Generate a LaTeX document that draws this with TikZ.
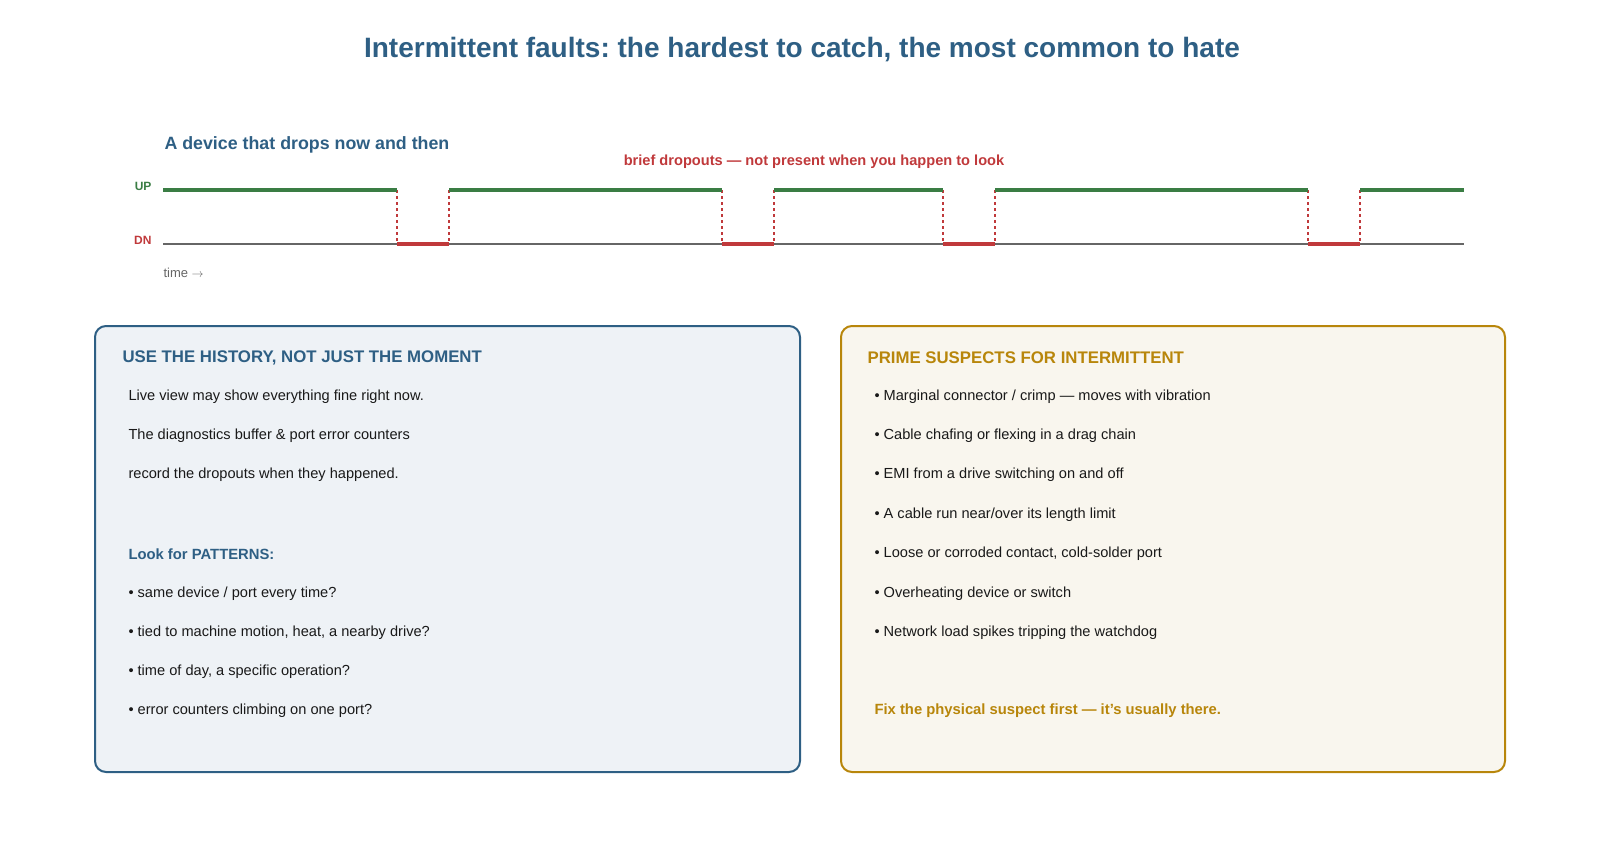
\documentclass[tikz,border=0pt]{standalone}
\usepackage{fontspec}
\setmainfont{Liberation Sans}
\frenchspacing
\begin{document}
\definecolor{tblue}{HTML}{2E5F84}
\definecolor{tgreen}{HTML}{3A7D44}
\definecolor{tred}{HTML}{C0393B}
\definecolor{tgold}{HTML}{B8860B}
\definecolor{tgray}{HTML}{666666}
\definecolor{bfill}{HTML}{EEF2F6}
\definecolor{gfill}{HTML}{F9F6EE}
\begin{tikzpicture}[x=1pt,y=-1pt,
 txt/.style={anchor=west,font=\fontsize{14.6}{16}\selectfont,text=black!90},
 hd/.style={anchor=west,font=\fontsize{16.8}{19}\bfseries\selectfont},
 up/.style={tgreen,line width=3.5pt},
 dn/.style={tgray,line width=2.8pt},
 drop/.style={tred,line width=3.5pt},
 edge/.style={tred,line width=2.2pt,dash pattern=on 3pt off 3pt}]
\useasboundingbox (0,0) rectangle (1600,841);
\node[font=\fontsize{28}{32}\bfseries\selectfont,text=tblue] (title) at (802,50) {Intermittent faults: the hardest to catch, the most common to hate};
\node[hd,text=tblue,font=\fontsize{17.8}{20}\bfseries\selectfont] (sub) at (161,145) {A device that drops now and then};
\node[font=\fontsize{14.6}{16}\bfseries\selectfont,text=tred] (lab) at (814,162) {brief dropouts — not present when you happen to look};
\node[anchor=east,font=\fontsize{12}{14}\bfseries\selectfont,text=tgreen] (uplab) at (155,186) {UP};
\node[anchor=east,font=\fontsize{12}{14}\bfseries\selectfont,text=tred] (dnlab) at (155,240) {DN};
\node[anchor=west,font=\fontsize{13}{15}\selectfont,text=tgray] (time) at (160,273) {time $\rightarrow$};
\draw[dn] (163,244) -- (1464,244);
\foreach \a/\b in {397/449,722/774,943/995,1308/1360}{
  \draw[drop] (\a,244) -- (\b,244);
  \draw[edge] (\a,190) -- (\a,244);
  \draw[edge] (\b,190) -- (\b,244);
}
\draw[up] (163,190) -- (397,190);
\draw[up] (449,190) -- (722,190);
\draw[up] (774,190) -- (943,190);
\draw[up] (995,190) -- (1308,190);
\draw[up] (1360,190) -- (1464,190);
\draw[tblue,fill=bfill,line width=2pt,rounded corners=11pt] (95,326) rectangle (800,772);
\draw[tgold,fill=gfill,line width=2pt,rounded corners=11pt] (841,326) rectangle (1505,772);
\node[hd,text=tblue] (lh) at (119,358) {USE THE HISTORY, NOT JUST THE MOMENT};
\node[txt] (l1) at (125,397) {Live view may show everything fine right now.};
\node[txt] (l2) at (125,436) {The diagnostics buffer \& port error counters};
\node[txt] (l3) at (125,475) {record the dropouts when they happened.};
\node[txt,text=tblue,font=\fontsize{14.8}{16}\bfseries\selectfont] (l4) at (125,554) {Look for PATTERNS:};
\node[txt] (l5) at (125,594) {• same device / port every time?};
\node[txt] (l6) at (125,633) {• tied to machine motion, heat, a nearby drive?};
\node[txt] (l7) at (125,672) {• time of day, a specific operation?};
\node[txt] (l8) at (125,711) {• error counters climbing on one port?};
\node[hd,text=tgold] (rh) at (864,358) {PRIME SUSPECTS FOR INTERMITTENT};
\node[txt] (r1) at (871,397) {• Marginal connector / crimp — moves with vibration};
\node[txt] (r2) at (871,436) {• Cable chafing or flexing in a drag chain};
\node[txt] (r3) at (871,475) {• EMI from a drive switching on and off};
\node[txt] (r4) at (871,515) {• A cable run near/over its length limit};
\node[txt] (r5) at (871,554) {• Loose or corroded contact, cold-solder port};
\node[txt] (r6) at (871,594) {• Overheating device or switch};
\node[txt] (r7) at (871,633) {• Network load spikes tripping the watchdog};
\node[txt,text=tgold,font=\fontsize{14.8}{16}\bfseries\selectfont] (r8) at (871,711) {Fix the physical suspect first — it's usually there.};
\end{tikzpicture}
\end{document}
